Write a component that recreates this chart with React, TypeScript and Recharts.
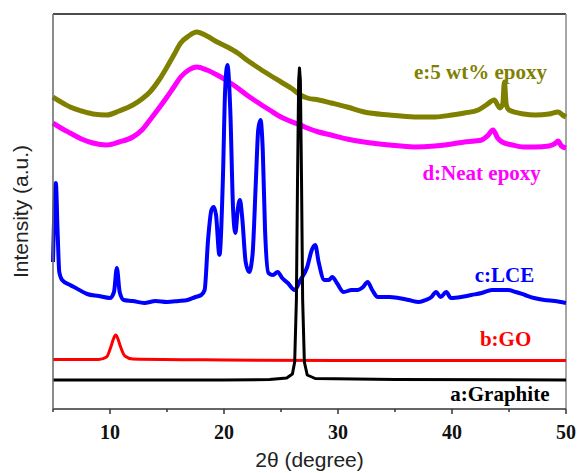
import React from "react"
import { LineChart, Line, XAxis, YAxis, ReferenceLine, ReferenceDot } from "recharts"

type Pt = { x: number; y: number }

// [2θ, intensity] pairs (arbitrary units, offset stacked)
const graphite: [number, number][] = [
  [5, 29], [10, 29], [20, 29], [24, 29.5], [25.5, 31], [26.0, 35], [26.2, 47], [26.35, 109],
  [26.45, 229], [26.55, 329], [26.62, 341], [26.7, 329], [26.8, 229], [26.9, 109], [27.05, 47],
  [27.3, 34], [28, 30.5], [35, 29.5], [50, 29],
]

const go: [number, number][] = [
  [5, 49.5], [9, 49.5], [9.7, 52], [10.1, 63], [10.3, 70], [10.5, 74], [10.7, 70], [10.9, 63],
  [11.3, 53], [12, 50], [20, 49], [30, 48.5], [50, 48.5],
]

const lce: [number, number][] = [
  [5.0, 147], [5.15, 209], [5.25, 226], [5.4, 179], [5.55, 137], [5.8, 129], [6.5, 124], [7, 121],
  [8, 115], [9, 113], [10, 111], [10.35, 117], [10.6, 141], [10.85, 117], [11.2, 109], [12, 108],
  [13, 106], [14, 108], [15, 107], [16, 108], [16.8, 109], [17.5, 112], [18, 114], [18.3, 119],
  [18.6, 169], [18.9, 199], [19.1, 202], [19.3, 194], [19.6, 154], [19.9, 229], [20.1, 319],
  [20.3, 344], [20.55, 299], [20.8, 199], [21.0, 176], [21.2, 199], [21.4, 209], [21.6, 191],
  [21.9, 147], [22.2, 137], [22.5, 154], [22.8, 229], [23.0, 279], [23.2, 289], [23.4, 259],
  [23.6, 179], [23.9, 136], [24.3, 134], [24.7, 137], [25.1, 131], [25.6, 126], [26.2, 119],
  [26.7, 129], [27.3, 142], [27.7, 159], [28.0, 164], [28.3, 147], [28.8, 129], [29.2, 129],
  [29.5, 132], [29.9, 126], [30.5, 117], [31.2, 119], [31.7, 119], [32.2, 122], [32.6, 127],
  [33.0, 119], [33.5, 112], [34.5, 112], [35.3, 111], [36.2, 109], [37.1, 107], [37.7, 109],
  [38.2, 112], [38.6, 117], [39.0, 112], [39.5, 117], [39.9, 111], [40.8, 112], [41.7, 114],
  [42.6, 116], [43.5, 119], [44.2, 119], [44.9, 119], [45.6, 117], [46.4, 114], [47.2, 111],
  [48.1, 109], [49, 108], [50, 106],
]

const neat: [number, number][] = [
  [5, 286], [5.7, 281], [6.5, 276], [7.5, 270], [8.5, 266], [9.7, 264], [10.8, 267], [12, 272],
  [12.8, 279], [13.5, 289], [14.3, 301], [15, 312], [15.6, 322], [16.2, 332], [16.9, 339],
  [17.6, 342], [18.5, 339], [19.4, 334], [20.3, 328], [21.2, 321], [22, 314], [22.9, 307],
  [24, 299], [25, 292], [26, 287], [26.7, 284], [27.3, 281], [28.3, 277], [29.4, 274], [30.8, 270],
  [32.3, 267], [34.5, 264], [36.7, 262], [38.5, 263], [40, 265], [41.1, 267], [42, 268],
  [42.6, 269], [43.1, 273], [43.6, 279], [44, 271], [44.4, 267], [45.3, 264], [46.3, 262],
  [47.3, 262], [48.5, 263], [49.1, 266], [49.3, 268], [49.6, 263], [50, 261],
]

const wt5: [number, number][] = [
  [5, 312], [5.7, 307], [6.5, 302], [7.5, 298], [8.5, 295], [9.7, 294], [10.8, 298], [12, 304],
  [12.8, 310], [13.5, 317], [14.3, 329], [15, 342], [15.6, 354], [16.2, 366], [16.9, 373],
  [17.6, 377], [18.5, 373], [19.4, 367], [20.3, 362], [21.2, 356], [22, 349], [22.9, 342],
  [24, 334], [25, 327], [26, 320], [26.7, 314], [27.3, 311], [28.3, 309], [29.4, 306], [30.8, 302],
  [32.3, 297], [34.5, 294], [36.7, 292], [38.5, 292], [40, 294], [41.1, 296], [42.3, 299],
  [43, 304], [43.7, 309], [44.2, 301], [44.45, 305], [44.6, 327], [44.75, 305], [45.0, 299],
  [46.3, 295], [47.3, 294], [48.5, 295], [49.3, 297], [49.7, 294], [50, 292],
]

const xTicks = [5, 10, 15, 20, 25, 30, 35, 40, 45, 50]
const labelNames = ["e:5 wt% epoxy", "d:Neat epoxy", "c:LCE", "b:GO", "a:Graphite"]
const labelX = [42.5, 42.6, 44.6, 44.7, 44.2]
const labelY = [337, 236, 134, 70, 15]
const colors = ["#808000", "#ff00ff", "#0000ff", "#ff0000", "#000000"]

const toPts = (arr: [number, number][]): Pt[] => arr.map(([x, y]) => ({ x, y }))

const serif = "'Liberation Serif', 'Times New Roman', serif"
const sans = "'Liberation Sans', Arial, sans-serif"

const Tick = (props: any) => {
  const { x, y, payload } = props
  const major = payload.value % 10 === 0
  return (
    <g>
      <line x1={x} x2={x} y1={y} y2={y + (major ? 5 : 3)} stroke="#333" strokeWidth={1.5} />
      {major && (
        <text x={x} y={y + 30} textAnchor="middle" fontFamily={serif} fontWeight="bold" fontSize={20} fill="#111">
          {payload.value}
        </text>
      )}
    </g>
  )
}

const tag = (text: string, color: string) => (props: any) => {
  const vb = props.viewBox
  return (
    <text
      x={vb.x + vb.width / 2}
      y={vb.y + vb.height / 2}
      textAnchor="middle"
      dominantBaseline="central"
      fontFamily={serif}
      fontWeight="bold"
      fontSize={21}
      fill={color}
    >
      {text}
    </text>
  )
}

const series = [wt5, neat, lce, go, graphite]

export default function App() {
  return (
    <div style={{ width: 580, height: 473 }}>
      <style>{`body{margin:0}`}</style>
      <LineChart width={580} height={473} margin={{ top: 14, right: 14, left: 0, bottom: 0 }}>
        <XAxis
          dataKey="x"
          type="number"
          domain={[5, 50]}
          ticks={xTicks}
          interval={0}
          allowDuplicatedCategory={false}
          height={64}
          tickSize={0}
          tickMargin={0}
          tickLine={false}
          tick={<Tick />}
          axisLine={{ stroke: "#333", strokeWidth: 1.5 }}
          label={{ value: "2θ (degree)", position: "insideBottom", offset: 6, fontFamily: sans, fontSize: 21, fill: "#222" }}
        />
        <YAxis
          type="number"
          domain={[0, 395]}
          width={53}
          tick={false}
          tickLine={false}
          axisLine={{ stroke: "#666", strokeWidth: 1.5 }}
          label={{
            content: (p: any) => {
              const vb = p.viewBox
              const cx = vb.x + 20
              const cy = vb.y + vb.height / 2
              return (
                <text x={cx} y={cy} transform={`rotate(-90 ${cx} ${cy})`} textAnchor="middle" dominantBaseline="central" fontFamily={sans} fontSize={21} fill="#222">
                  Intensity (a.u.)
                </text>
              )
            },
          }}
        />
        <ReferenceLine y={395} stroke="#111" strokeWidth={1.5} />
        <ReferenceLine x={50} stroke="#888" strokeWidth={1.5} />
        {series.map((s, i) => (
          <Line
            key={i}
            data={toPts(s)}
            dataKey="y"
            type={i === 4 ? "linear" : "monotone"}
            stroke={colors[i]}
            strokeWidth={i < 2 ? 5 : i === 2 ? 4 : 3}
            strokeLinejoin="round"
            dot={false}
            isAnimationActive={false}
          />
        ))}
        {labelNames.map((n, i) => (
          <ReferenceDot key={n} x={labelX[i]} y={labelY[i]} r={0} fill="none" stroke="none" label={{ content: tag(n, colors[i]) }} />
        ))}
      </LineChart>
    </div>
  )
}
